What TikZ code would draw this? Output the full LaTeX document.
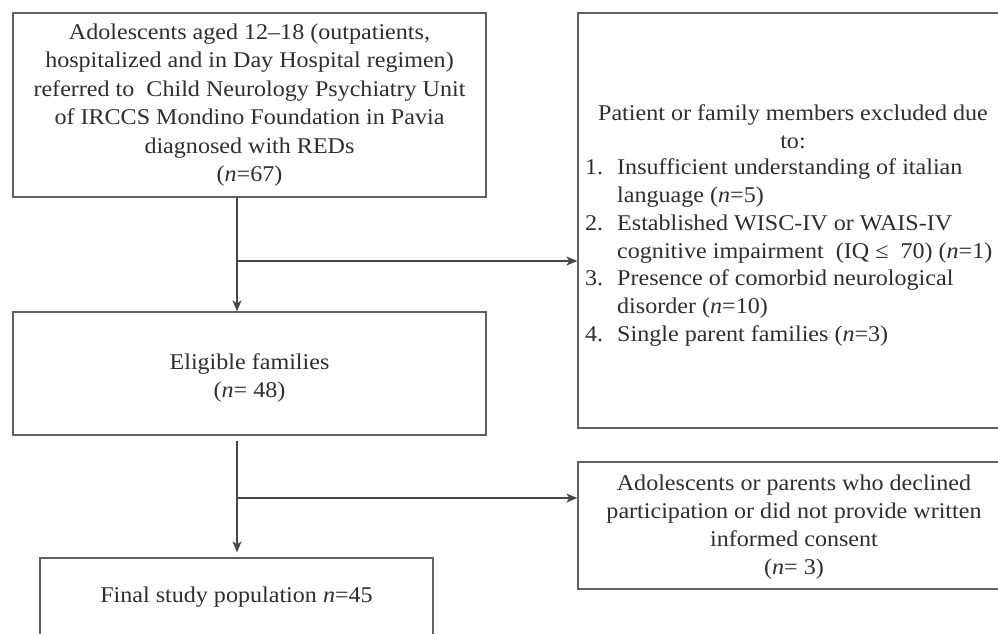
\documentclass[tikz,border=0pt]{standalone}
\usepackage{fontspec}
\setmainfont[FakeStretch=1.07]{Liberation Serif}
\usetikzlibrary{arrows.meta}
\begin{document}
\begin{tikzpicture}[x=1pt,y=-1pt,
  box/.style={draw=black!62, line width=1.3pt, fill=white, inner sep=0pt,
    font=\fontsize{22.5}{28.5}\selectfont, text=black!82, align=center},
  txt/.style={inner sep=0pt, font=\fontsize{22.5}{27.9}\selectfont, text=black!82},
  arr/.style={draw=black!72, line width=1.2pt, -{Stealth[length=11pt,width=9pt,inset=3pt]}},
]
\useasboundingbox (0,0) rectangle (998,633);
\clip (0,0) rectangle (998,633);

\node[box, minimum width=473pt, minimum height=184pt] (box1) at (249.5,105)
  {Adolescents aged 12--18 (outpatients,\\hospitalized and in Day Hospital regimen)\\referred to\ \ Child Neurology Psychiatry Unit\\of IRCCS Mondino Foundation in Pavia\\diagnosed with REDs\\(\textit{n}=67)};

\node[box, minimum width=473pt, minimum height=123pt] (elig) at (249.5,373.5) {};
\node[txt, align=center] (eligtext) at (249.5,378) {Eligible families\\(\textit{n}= 48)};

\node[box, minimum width=432pt, minimum height=415pt] (excl) at (794,220.5) {};
\node[txt, align=center] (exclhead) at (793,127)
  {Patient or family members excluded due\\to:};
\node[txt, align=left, anchor=west] (excllist) at (585,252.5)
  {\makebox[32pt][l]{1.}Insufficient understanding of italian\\
   \hspace*{32pt}language (\textit{n}=5)\\
   \makebox[32pt][l]{2.}Established WISC-IV or WAIS-IV\\
   \hspace*{32pt}cognitive impairment\ \ (IQ ≤\ \ 70) (\textit{n}=1)\\
   \makebox[32pt][l]{3.}Presence of comorbid neurological\\
   \hspace*{32pt}disorder (\textit{n}=10)\\
   \makebox[32pt][l]{4.}Single parent families (\textit{n}=3)};

\node[box, minimum width=432pt, minimum height=127pt] (decl) at (794,525.5) {};
\node[txt, align=center] (decltext) at (794,527)
  {Adolescents or parents who declined\\participation or did not provide written\\informed consent\\(\textit{n}= 3)};

\node[box, minimum width=393pt, minimum height=102pt] (final) at (236.5,609)
  {Final study population \textit{n}=45\\\mbox{}};

\coordinate (j1) at (237,261);
\coordinate (j2) at (237,498);

\draw[arr] (box1.south -| j1) -- (elig.north -| j1);
\draw[arr] (j1) -- (j1 -| excl.west);
\draw[arr, shorten <=5pt, shorten >=5pt] (elig.south -| j2) -- (final.north -| j2);
\draw[arr] (j2) -- (j2 -| decl.west);
\end{tikzpicture}
\end{document}
